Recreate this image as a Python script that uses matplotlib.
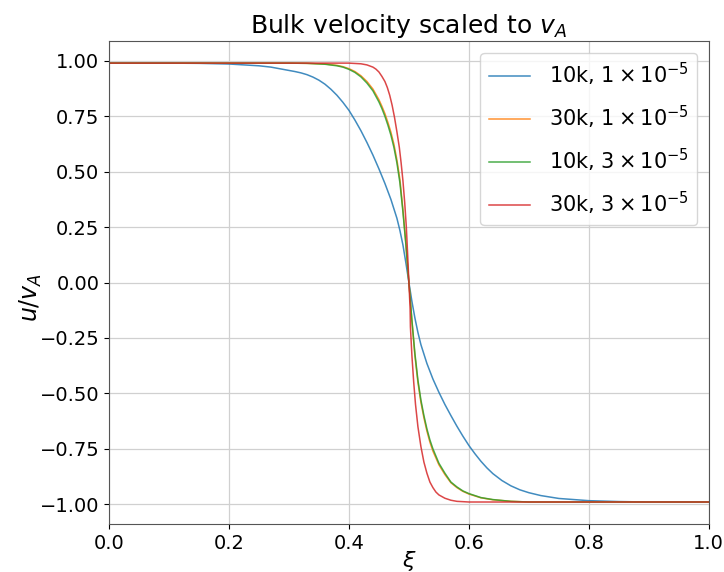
import matplotlib
matplotlib.use("Agg")
import matplotlib.pyplot as plt

# values (xi, u/v_A)
xi_blue = [0.0, 0.1, 0.15, 0.2, 0.25, 0.27, 0.3, 0.31, 0.32, 0.33, 0.34, 0.35, 0.36, 0.37,
           0.38, 0.39, 0.4, 0.41, 0.42, 0.43, 0.44, 0.45, 0.46, 0.47, 0.48, 0.485, 0.49,
           0.495, 0.5, 0.505, 0.51, 0.515, 0.52, 0.53, 0.54, 0.55, 0.56, 0.57, 0.58, 0.59,
           0.6, 0.61, 0.62, 0.63, 0.64, 0.655, 0.67, 0.685, 0.7, 0.72, 0.75, 0.8,
           0.85, 0.9, 1.0]
u_blue = [0.99, 0.99, 0.989, 0.986, 0.978, 0.972, 0.957, 0.952, 0.946, 0.938, 0.927, 0.913, 0.895, 0.872,
          0.845, 0.813, 0.777, 0.733, 0.685, 0.632, 0.575, 0.513, 0.447, 0.375, 0.29, 0.235, 0.17,
          0.088, 0.0, -0.085, -0.16, -0.225, -0.28, -0.365, -0.435, -0.495, -0.55, -0.6, -0.648, -0.693,
          -0.735, -0.772, -0.806, -0.836, -0.862, -0.893, -0.917, -0.935, -0.948, -0.961, -0.974, -0.984,
          -0.988, -0.99, -0.99]

xi_orange = [0.0, 0.3, 0.33, 0.36, 0.38, 0.39, 0.4, 0.41, 0.42, 0.43, 0.44, 0.45, 0.455,
             0.46, 0.465, 0.47, 0.475, 0.48, 0.485, 0.49, 0.495, 0.497, 0.5, 0.503,
             0.505, 0.51, 0.515, 0.52, 0.525, 0.53, 0.535, 0.54, 0.55, 0.56, 0.57,
             0.58, 0.59, 0.6, 0.62, 0.64, 0.67, 0.7, 1.0]
u_orange = [0.99, 0.99, 0.989, 0.986, 0.98, 0.974, 0.965, 0.952, 0.933, 0.907, 0.873, 0.825, 0.795,
            0.762, 0.722, 0.678, 0.624, 0.553, 0.465, 0.33, 0.175, 0.1, 0.0, -0.105,
            -0.175, -0.33, -0.45, -0.54, -0.61, -0.67, -0.72, -0.76, -0.822, -0.866, -0.903,
            -0.925, -0.942, -0.954, -0.971, -0.98, -0.987, -0.99, -0.99]

xi_green = [0.0, 0.3, 0.33, 0.36, 0.38, 0.39, 0.4, 0.41, 0.42, 0.43, 0.44, 0.45, 0.455,
            0.46, 0.465, 0.47, 0.475, 0.48, 0.485, 0.49, 0.495, 0.497, 0.5, 0.503,
            0.505, 0.51, 0.515, 0.52, 0.525, 0.53, 0.535, 0.54, 0.55, 0.56, 0.57,
            0.58, 0.59, 0.6, 0.62, 0.64, 0.67, 0.7, 1.0]
u_green = [0.99, 0.99, 0.989, 0.985, 0.978, 0.972, 0.962, 0.948, 0.928, 0.9, 0.865, 0.815, 0.785,
           0.75, 0.71, 0.665, 0.61, 0.54, 0.45, 0.32, 0.17, 0.1, 0.0, -0.1,
           -0.17, -0.32, -0.44, -0.53, -0.6, -0.66, -0.71, -0.75, -0.815, -0.86, -0.9,
           -0.922, -0.94, -0.952, -0.97, -0.979, -0.987, -0.99, -0.99]

xi_red = [0.0, 0.4, 0.42, 0.43, 0.44, 0.445, 0.45, 0.455, 0.46, 0.464, 0.468, 0.472,
          0.476, 0.48, 0.484, 0.487, 0.49, 0.493, 0.4957, 0.498, 0.5, 0.502, 0.5025,
          0.505, 0.508, 0.511, 0.515, 0.52, 0.525, 0.53, 0.535, 0.54, 0.545, 0.55,
          0.56, 0.57, 0.58, 0.6, 1.0]
u_red = [0.99, 0.99, 0.987, 0.982, 0.972, 0.963, 0.95, 0.93, 0.907, 0.88, 0.845, 0.8,
         0.745, 0.68, 0.61, 0.54, 0.46, 0.36, 0.25, 0.12, 0.0, -0.12, -0.2,
         -0.33, -0.45, -0.55, -0.65, -0.74, -0.81, -0.86, -0.9, -0.925, -0.945, -0.958,
         -0.973, -0.982, -0.987, -0.99, -0.99]

labels = [r"10k, $1\times10^{-5}$", r"30k, $1\times10^{-5}$",
          r"10k, $3\times10^{-5}$", r"30k, $3\times10^{-5}$"]

fig = plt.figure(figsize=(7.24, 5.72), dpi=100)
ax = fig.add_axes([0.1506, 0.084, 0.8284, 0.844])

ax.plot(xi_blue, u_blue, lw=1.1, alpha=0.85, label=labels[0])
ax.plot(xi_orange, u_orange, lw=1.1, alpha=0.85, label=labels[1])
ax.plot(xi_green, u_green, lw=1.1, alpha=0.85, label=labels[2])
ax.plot(xi_red, u_red, lw=1.1, alpha=0.85, label=labels[3])

ax.set_xlim(0, 1)
ax.set_ylim(-1.089, 1.089)
ax.set_yticks([-1.0, -0.75, -0.5, -0.25, 0.0, 0.25, 0.5, 0.75, 1.0])
ax.grid(True, color="#d0d0d0", lw=0.9)
ax.tick_params(labelsize=14)
for s in ax.spines.values():
    s.set_color("#555555")

ax.set_title(r"Bulk velocity scaled to $v_A$", fontsize=18)
ax.set_xlabel(r"$\xi$", fontsize=16, labelpad=-3)
ax.set_ylabel(r"$u/v_A$", fontsize=17)
ax.yaxis.set_label_coords(-0.108, 0.47)
ax.legend(loc="upper right", fontsize=15, labelspacing=0.75, handletextpad=0.9,
          borderaxespad=0.55)

fig.savefig("out.png", dpi=100)
